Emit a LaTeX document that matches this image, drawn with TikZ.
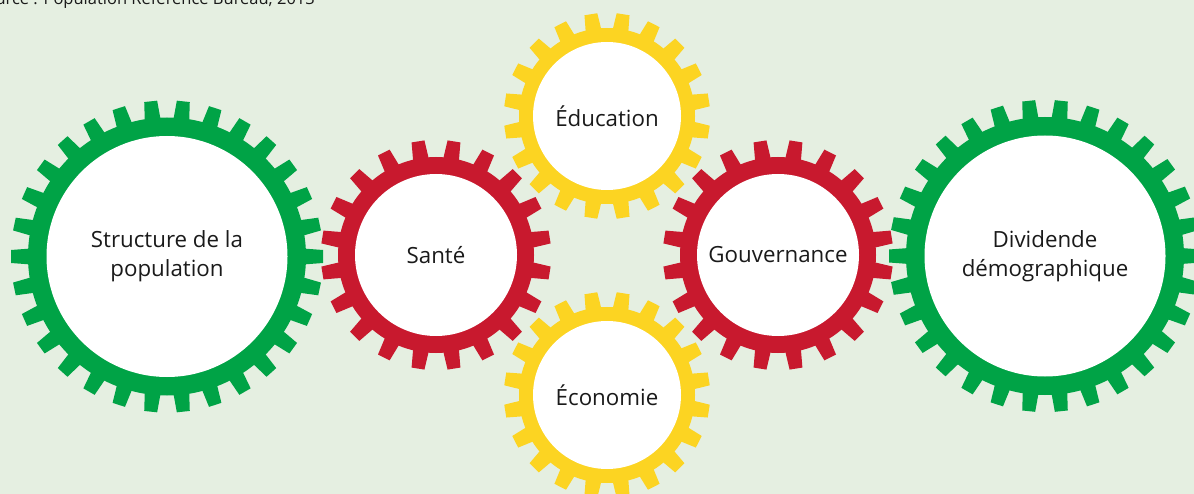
\documentclass[tikz,border=0pt]{standalone}
\usepackage{fontspec}
\setmainfont{Open Sans}
\usetikzlibrary{positioning}
\definecolor{bgpale}{HTML}{E5EFE1}
\definecolor{geargreen}{HTML}{00A346}
\definecolor{gearred}{HTML}{C8192E}
\definecolor{gearyellow}{HTML}{FCD422}
\definecolor{inktext}{HTML}{1A1A1A}
\tikzset{
  hub/.style       = {circle, fill=white, inner sep=0pt, align=center,
                      text=inktext, font=\fontsize{22.3}{29}\selectfont},
  big hub/.style   = {hub, minimum size=241pt},
  mid hub/.style   = {hub, minimum size=162pt},
  small hub/.style = {hub, minimum size=148pt},
  note/.style      = {inner sep=0pt, text=inktext, font=\fontsize{16.5}{19}\selectfont},
  pics/gear/.style args = {#1/#2/#3/#4/#5}{code={
      \fill[#5] (0,0) circle (#2pt);
      \foreach \k in {1,...,#1}{
        \pgfmathsetmacro\ang{#4+360/#1*\k}
        \fill[#5, rotate=\ang] (#2-3,-8) -- (#3,-6.5) -- (#3,6.5) -- (#2-3,8) -- cycle;
      }
  }}
}

\begin{document}
\begin{tikzpicture}[x=1pt, y=-1pt]
  \fill[bgpale] (0,0) rectangle (1194,494);
  \useasboundingbox (0,0) rectangle (1194,494);

  \node[note, anchor=base east] (source) at (315,4.5) {Source : Population Reference Bureau, 2013};

  \pic at (167,256.5) {gear=30/139/156/0/geargreen};
  \pic at (1045,256)  {gear=30/139/156/0/geargreen};
  \pic at (436,255)   {gear=20/98/115/9/gearred};
  \pic at (778,255)   {gear=20/98/115/9/gearred};
  \pic at (607,116)   {gear=20/88/103/9/gearyellow};
  \pic at (607,395)   {gear=20/88/103/9/gearyellow};

  \node[big hub]   (structure)   at (167,256.5) {Structure de la\\population};
  \node[mid hub]   (sante)       at (436,255)   {Santé};
  \node[small hub] (education)   at (607,116)   {Éducation};
  \node[small hub] (economie)    at (607,395)   {Économie};
  \node[mid hub]   (gouvernance) at (778,255)   {Gouvernance};
  \node[big hub]   (dividende)   at (1045,256)  {Dividende\\démographique};
\end{tikzpicture}
\end{document}
